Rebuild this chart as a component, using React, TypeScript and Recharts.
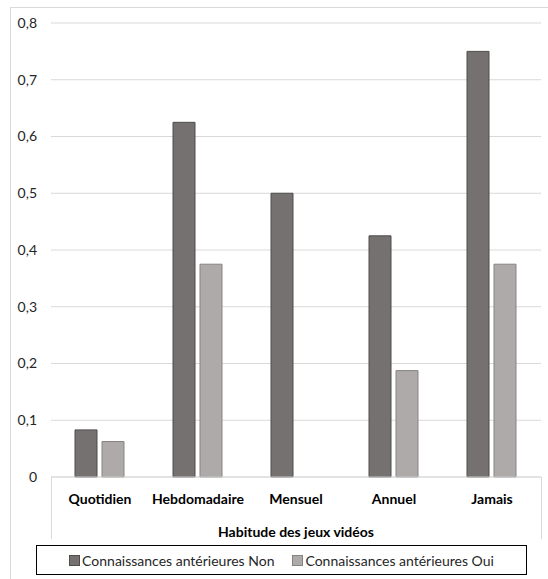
import { BarChart, Bar, XAxis, YAxis, CartesianGrid, Legend } from "recharts";

const categories = ["Quotidien", "Hebdomadaire", "Mensuel", "Annuel", "Jamais"];
const nonValues = [0.083, 0.625, 0.5, 0.425, 0.75];
const ouiValues = [0.0625, 0.375, 0, 0.1875, 0.375];
const yTicks = [0, 0.1, 0.2, 0.3, 0.4, 0.5, 0.6, 0.7, 0.8];
const seriesNames = ["Connaissances antérieures Non", "Connaissances antérieures Oui"];

const data = categories.map((cat, i) => ({ cat, non: nonValues[i], oui: ouiValues[i] }));

const font = "Lato, 'Open Sans', sans-serif";
const gridColor = "#d9d9d9";

const fmt = (v: number) => (v === 0 ? "0" : v.toFixed(1).replace(".", ","));

function LegendBox() {
  const items = [
    { name: seriesNames[0], fill: "#767171", stroke: "#4f4c4c" },
    { name: seriesNames[1], fill: "#aeaaaa", stroke: "#878383" },
  ];
  return (
    <div
      style={{
        boxSizing: "border-box",
        width: 491,
        height: 30,
        border: "1px solid #000",
        display: "flex",
        alignItems: "center",
        justifyContent: "center",
        gap: 18,
        fontFamily: font,
        fontSize: 14,
        color: "#262626",
      }}
    >
      {items.map((it) => (
        <span key={it.name} style={{ display: "flex", alignItems: "center" }}>
          <span
            style={{
              display: "inline-block",
              boxSizing: "border-box",
              width: 11,
              height: 11,
              background: it.fill,
              border: `1px solid ${it.stroke}`,
              marginRight: 2,
            }}
          />
          {it.name}
        </span>
      ))}
    </div>
  );
}

export default function App() {
  return (
    <div style={{ position: "absolute", left: 0, top: 0, width: 548, height: 579, overflow: "hidden", background: "#fff" }}>
      {/* chart area frame */}
      <div style={{ position: "absolute", left: 10, top: 7, width: 560, height: 600, border: `1px solid ${gridColor}` }} />
      {/* box under the category axis */}
      <div
        style={{
          position: "absolute",
          left: 51,
          top: 477,
          width: 489,
          height: 62,
          borderLeft: `1px solid ${gridColor}`,
          borderRight: `1px solid ${gridColor}`,
        }}
      />
      <BarChart
        width={548}
        height={579}
        data={data}
        margin={{ top: 23, right: 7, left: 0, bottom: 8 }}
        barCategoryGap="24.5%"
        barGap={5}
        style={{ position: "absolute", left: 0, top: 0 }}
      >
        <CartesianGrid vertical={false} stroke={gridColor} />
        <YAxis
          domain={[0, 0.8]}
          ticks={yTicks}
          tickFormatter={fmt}
          width={51}
          axisLine={false}
          tickLine={false}
          tickSize={0}
          tickMargin={14}
          tick={{ fill: "#262626", fontSize: 14, fontFamily: font }}
        />
        <XAxis
          dataKey="cat"
          height={64}
          axisLine={{ stroke: gridColor }}
          tickLine={false}
          tickSize={0}
          tickMargin={17}
          tick={{ fill: "#000", fontSize: 14, fontWeight: 700, fontFamily: font }}
          label={{
            value: "Habitude des jeux vidéos",
            position: "insideBottom",
            offset: 4,
            fill: "#000",
            fontSize: 14,
            fontWeight: 700,
            fontFamily: font,
          }}
        />
        <Legend
          verticalAlign="bottom"
          content={<LegendBox />}
          wrapperStyle={{ position: "absolute", left: 36, top: 545, bottom: "auto", width: 491, height: 30 }}
        />
        <Bar dataKey="non" name={seriesNames[0]} fill="#767171" stroke="#4f4c4c" strokeWidth={1} isAnimationActive={false} />
        <Bar dataKey="oui" name={seriesNames[1]} fill="#aeaaaa" stroke="#878383" strokeWidth={1} isAnimationActive={false} />
      </BarChart>
    </div>
  );
}
